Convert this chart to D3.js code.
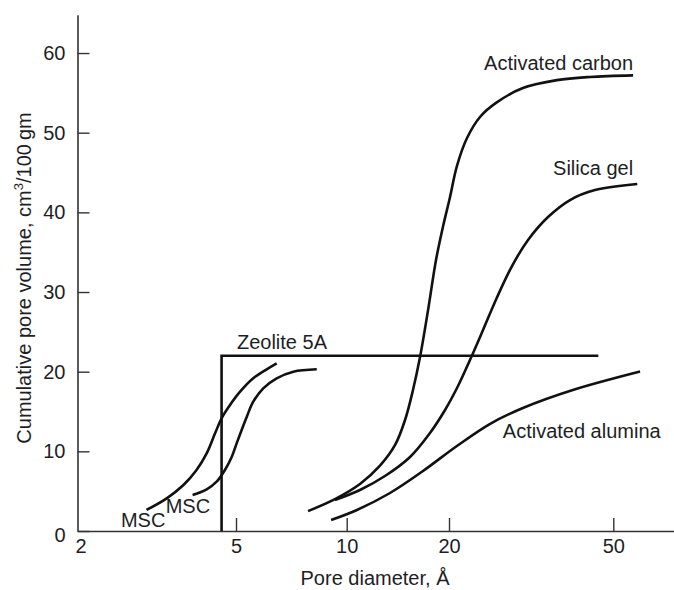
<!DOCTYPE html>
<html>
<head>
<meta charset="utf-8">
<script src="https://cdn.jsdelivr.net/npm/d3@7"></script>
<style>
  html, body { margin: 0; padding: 0; background: #fff; }
  svg { display: block; }
  text { font-family: "Liberation Sans", Arial, Helvetica, sans-serif; fill: #1e1e24; }
</style>
</head>
<body>
<svg id="chart" width="674" height="590"></svg>
<script>
// Cumulative pore volume (cm3/100 gm) against pore diameter (Angstrom)
const xTickValues = [2, 5, 10, 20, 50];
const yTickValues = [0, 10, 20, 30, 40, 50, 60];

const activatedCarbon = [
  [7.85, 2.5], [9.29, 4.0], [10.94, 5.9], [12.53, 8.2], [13.88, 10.8], [14.84, 13.9],
  [15.67, 17.7], [16.43, 21.8], [17.35, 27.7], [18.31, 34.0], [19.2, 38.2], [20.11, 41.9],
  [20.9, 45.8], [22.1, 49.3], [23.8, 52.0], [26.1, 53.8], [30.2, 55.6], [36.5, 56.6],
  [43.9, 57.0], [55.8, 57.2]
];
const silicaGel = [
  [9.29, 3.9], [10.94, 5.15], [12.96, 6.9], [15.36, 9.29], [17.58, 12.3], [19.47, 15.19],
  [21.03, 18.2], [22.48, 21.46], [24.18, 25.23], [26.1, 29.25], [28.42, 33.26],
  [31.08, 36.53], [34.74, 39.41], [39.27, 41.55], [45.14, 42.8], [57.1, 43.56]
];
const activatedAlumina = [
  [9.07, 1.38], [10.72, 2.64], [13.41, 4.77], [16.77, 7.53], [20.9, 10.67], [25.1, 13.43],
  [30.2, 15.44], [39.9, 17.7], [58.0, 20.02]
];
const mscA = [
  [2.98, 2.64], [3.35, 4.10], [3.69, 5.77], [3.98, 7.66], [4.22, 9.75], [4.43, 12.26],
  [4.60, 14.15], [4.83, 15.82], [5.13, 17.49], [5.57, 19.17], [6.06, 20.3], [6.45, 21.05]
];
const mscB = [
  [3.89, 4.52], [4.22, 5.23], [4.47, 6.19], [4.69, 7.66], [4.88, 9.33], [5.02, 11.0],
  [5.18, 12.68], [5.35, 14.35], [5.57, 16.23], [5.93, 17.91], [6.45, 19.17], [7.16, 20.0],
  [8.29, 20.3]
];
const zeolite5A = [[4.6, 0], [4.6, 22], [46, 22]];

const svg = d3.select("#chart");
const fontSize = 20;

// Pore-diameter axis is logarithmic; the printed decades are slightly uneven,
// so the log scale is anchored at each labelled diameter.
const x = d3.scaleLog()
  .domain([2, 5, 10, 20, 50, 70])
  .range([77.5, 236, 346.7, 449, 613.3, 674]);

const y = d3.scaleLinear()
  .domain([0, 64.8])
  .range([531, 14.8]);

const axisColor = "#333";

// x axis
const gx = svg.append("g")
  .attr("transform", `translate(0,${y(0)})`)
  .call(d3.axisBottom(x)
    .tickValues(xTickValues)
    .tickFormat(d3.format("d"))
    .tickSizeInner(-13)
    .tickSizeOuter(0)
    .tickPadding(8));

// y axis
const gy = svg.append("g")
  .attr("transform", `translate(${x(2)},0)`)
  .call(d3.axisLeft(y)
    .tickValues(yTickValues)
    .tickSizeInner(-12)
    .tickSizeOuter(0)
    .tickPadding(12));

[gx, gy].forEach(g => {
  g.select(".domain").attr("stroke", axisColor).attr("stroke-width", 1.6);
  g.selectAll(".tick line").attr("stroke", axisColor).attr("stroke-width", 1.4);
  g.selectAll(".tick text").attr("font-size", fontSize).attr("fill", "#1e1e24")
    .style("font-family", "'Liberation Sans', Arial, sans-serif");
});
gx.selectAll(".tick").filter(d => d === 2).select("line").remove();
gx.selectAll(".tick").filter(d => d === 2).select("text").attr("dx", 3);
gy.selectAll(".tick").filter(d => d === 0).select("text").attr("dy", "0.5em");

// axis titles
svg.append("text")
  .attr("x", 375).attr("y", 585)
  .attr("text-anchor", "middle")
  .attr("font-size", fontSize)
  .text("Pore diameter, Å");

const yTitle = svg.append("text")
  .attr("transform", "translate(31,278) rotate(-90)")
  .attr("text-anchor", "middle")
  .attr("font-size", fontSize);
yTitle.append("tspan").text("Cumulative pore volume, cm");
yTitle.append("tspan").attr("font-size", 13).attr("dy", -8).text("3");
yTitle.append("tspan").attr("dy", 8).text("/100\u2009gm");

// curves
const line = d3.line()
  .x(d => x(d[0]))
  .y(d => y(d[1]))
  .curve(d3.curveCatmullRom.alpha(0.5));

const curves = [activatedCarbon, silicaGel, activatedAlumina, mscA, mscB];
svg.append("g")
  .selectAll("path")
  .data(curves)
  .join("path")
  .attr("d", line)
  .attr("fill", "none")
  .attr("stroke", "#111")
  .attr("stroke-width", 2.6)
  .attr("stroke-linecap", "butt");

// zeolite step
svg.append("path")
  .attr("d", d3.line().x(d => x(d[0])).y(d => y(d[1]))(zeolite5A))
  .attr("fill", "none")
  .attr("stroke", "#111")
  .attr("stroke-width", 2.6);

// curve labels
const labels = [
  { text: "Activated carbon", at: [55.8, 57.9], anchor: "end" },
  { text: "Silica gel", at: [55.8, 44.7], anchor: "end" },
  { text: "Activated alumina", at: [27.0, 11.7], anchor: "start" },
  { text: "Zeolite 5A", at: [5.03, 22.85], anchor: "start" },
  { text: "MSC", at: [2.57, 0.5], anchor: "start" },
  { text: "MSC", at: [3.33, 2.3], anchor: "start" }
];
svg.append("g")
  .selectAll("text")
  .data(labels)
  .join("text")
  .attr("x", d => x(d.at[0]))
  .attr("y", d => y(d.at[1]))
  .attr("text-anchor", d => d.anchor)
  .attr("font-size", fontSize)
  .text(d => d.text);
</script>
</body>
</html>
